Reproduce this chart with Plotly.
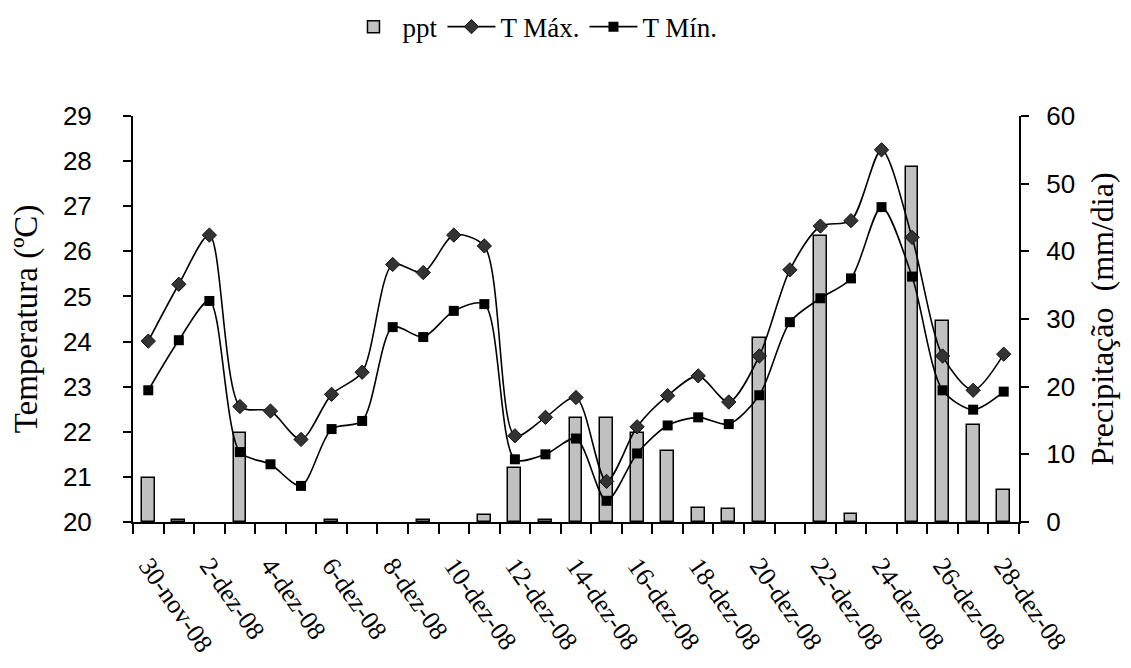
import plotly.graph_objects as go

# ---- data ----
dates = ["2008-11-30", "2008-12-01", "2008-12-02", "2008-12-03", "2008-12-04",
         "2008-12-05", "2008-12-06", "2008-12-07", "2008-12-08", "2008-12-09",
         "2008-12-10", "2008-12-11", "2008-12-12", "2008-12-13", "2008-12-14",
         "2008-12-15", "2008-12-16", "2008-12-17", "2008-12-18", "2008-12-19",
         "2008-12-20", "2008-12-21", "2008-12-22", "2008-12-23", "2008-12-24",
         "2008-12-25", "2008-12-26", "2008-12-27", "2008-12-28"]

ppt = [6.5, 0.3, 0, 13.2, 0, 0, 0.3, 0, 0, 0.3, 0, 1.0, 8.0, 0.3, 15.3,
       15.3, 13.2, 10.5, 2.1, 1.9, 27.2, 0, 42.3, 1.2, 0, 52.5, 29.7, 14.3, 4.8]

tmax = [24.01, 25.27, 26.36, 22.56, 22.46, 21.83, 22.83, 23.32, 25.71, 25.53,
        26.36, 26.12, 21.91, 22.32, 22.76, 20.90, 22.11, 22.80, 23.24, 22.66,
        23.68, 25.59, 26.56, 26.68, 28.25, 26.31, 23.68, 22.92, 23.72]

tmin = [22.92, 24.03, 24.90, 21.55, 21.28, 20.80, 22.06, 22.24, 24.32, 24.10,
        24.68, 24.83, 21.39, 21.50, 21.85, 20.47, 21.52, 22.14, 22.32, 22.17,
        22.81, 24.43, 24.96, 25.40, 26.98, 25.44, 22.92, 22.49, 22.89]

tick_dates = dates[::2]
tick_labels = ["30-nov-08", "2-dez-08", "4-dez-08", "6-dez-08", "8-dez-08",
               "10-dez-08", "12-dez-08", "14-dez-08", "16-dez-08", "18-dez-08",
               "20-dez-08", "22-dez-08", "24-dez-08", "26-dez-08", "28-dez-08"]

DAY_MS = 86400000
SERIF = "Liberation Serif, Times New Roman, serif"
SANS = "Liberation Sans, Arial, sans-serif"

# no outline for days without rain (nothing drawn in the reference)
bar_outline = [1.5 if v > 0 else 0 for v in ppt]

fig = go.Figure()

fig.add_trace(go.Bar(
    x=dates, y=ppt, name="ppt", yaxis="y",
    width=0.42 * DAY_MS,
    marker=dict(color="#C0C0C0", line=dict(color="black", width=bar_outline)),
))

fig.add_trace(go.Scatter(
    x=dates, y=tmax, name="T Máx.", yaxis="y2", mode="lines+markers",
    line=dict(color="black", width=1.6, shape="spline", smoothing=0.8),
    marker=dict(symbol="diamond", size=11, color="#333333",
                line=dict(color="#111111", width=1)),
))

fig.add_trace(go.Scatter(
    x=dates, y=tmin, name="T Mín.", yaxis="y2", mode="lines+markers",
    line=dict(color="black", width=1.6, shape="spline", smoothing=0.8),
    marker=dict(symbol="square", size=10, color="black"),
))

fig.update_layout(
    width=1123, height=660,
    paper_bgcolor="white", plot_bgcolor="white",
    margin=dict(l=125, r=112, t=108, b=146, autoexpand=False),
    bargap=0,
    showlegend=True,
    legend=dict(orientation="h", x=0.452, xanchor="center", y=1.219, yanchor="middle",
                font=dict(family=SERIF, size=27, color="black"),
                traceorder="normal", itemwidth=48),
    xaxis=dict(
        type="date", automargin=False,
        range=["2008-11-29 12:00", "2008-12-28 12:00"],
        tickmode="array", tickvals=tick_dates, ticktext=tick_labels,
        tickangle=55, ticks="", ticklabelstandoff=16,
        tickfont=dict(family=SERIF, size=26, color="black"),
        showline=True, linecolor="black", linewidth=2,
        showgrid=False, zeroline=False,
        minor=dict(ticks="outside", ticklen=10, tickwidth=2, tickcolor="black",
                   tick0="2008-11-29 12:00", dtick=DAY_MS, showgrid=False),
    ),
    yaxis=dict(
        side="right", range=[0, 60], dtick=10, automargin=False,
        ticks="outside", ticklen=8, tickwidth=2, tickcolor="black",
        showline=True, linecolor="black", linewidth=2,
        showgrid=False, zeroline=False,
        tickfont=dict(family=SANS, size=26, color="black"),
        ticklabelstandoff=12,
        title=dict(text="Precipitação  (mm/dia)", standoff=16,
                   font=dict(family=SERIF, size=32, color="black")),
    ),
    yaxis2=dict(
        side="left", overlaying="y", range=[20, 29], dtick=1, automargin=False,
        ticks="outside", ticklen=8, tickwidth=2, tickcolor="black",
        showline=True, linecolor="black", linewidth=2,
        showgrid=False, zeroline=False,
        tickfont=dict(family=SANS, size=26, color="black"),
        ticklabelstandoff=26,
        title=dict(text="Temperatura (ºC)", standoff=20,
                   font=dict(family=SERIF, size=33, color="black")),
    ),
)

fig.write_html("out.html")
